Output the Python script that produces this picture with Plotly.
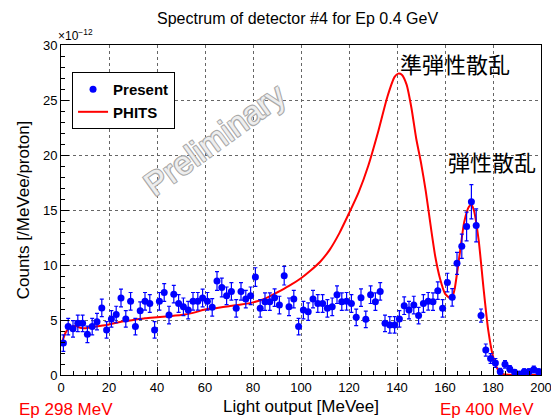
import plotly.graph_objects as go

# Measured light-output spectrum (2 MeVee bins), counts in units of 1e-12 /MeVee/proton
bin_centers = [1, 3, 5, 7, 9, 11, 13, 15, 17, 19, 21, 23, 25, 27, 29, 31, 33, 35, 37, 39,
               41, 43, 45, 47, 49, 51, 53, 55, 57, 59, 61, 63, 65, 67, 69, 71, 73, 75, 77, 79,
               81, 83, 85, 87, 89, 91, 93, 95, 97, 99, 101, 103, 105, 107, 109, 111, 113, 115, 117, 119,
               121, 123, 125, 127, 129, 131, 133, 135, 137, 139, 141, 143, 145, 147, 149, 151, 153, 155, 157, 159,
               161, 163, 165, 167, 169, 171, 173, 175, 177, 179, 181, 183, 185, 187, 189, 191, 193, 195, 197, 199]
present_counts = [2.9, 4.4, 4.2, 4.7, 4.7, 3.7, 4.4, 4.85, 6.1, 4.1,
                  5.1, 5.5, 7.0, 5.1, 6.7, 4.4, 5.85, 6.7, 6.5, 4.1,
                  6.7, 7.5, 5.45, 7.35, 6.5, 6.2, 5.9, 6.7, 6.7, 7.0,
                  6.7, 6.15, 8.55, 7.95, 7.2, 7.6, 6.06, 7.6, 6.9, 7.2,
                  8.9, 6.06, 6.67, 6.67, 7.03, 6.36, 9.03, 6.2, 6.9, 4.4,
                  5.9, 5.76, 6.9, 6.5, 6.5, 6.06, 6.2, 7.3, 6.67, 6.7,
                  6.5, 5.24, 7.03, 5.06, 7.3, 6.67, 7.6, 4.7, 4.55, 4.55,
                  5.1, 6.3, 5.9, 6.36, 5.4, 6.5, 6.7, 6.67, 7.67, 6.06,
                  8.4, 7.06, 10.15, 11.7, 13.5, 15.75, 13.6, 5.4, 2.27, 1.5,
                  1.1, 0.3, 0.97, 0.55, 0.24, 0.1, 0.3, 0.3, 0.5, 0.3]
present_errors = [0.75, 0.75, 0.75, 0.75, 0.75, 0.75, 0.75, 0.75, 0.8, 0.75,
                  0.75, 0.75, 0.8, 0.75, 0.8, 0.75, 0.8, 0.8, 0.8, 0.75,
                  0.8, 0.8, 0.8, 0.8, 0.8, 0.8, 0.8, 0.8, 0.8, 0.8,
                  0.8, 0.8, 0.85, 0.85, 0.8, 0.8, 0.8, 0.8, 0.8, 0.8,
                  0.85, 0.8, 0.8, 0.8, 0.8, 0.8, 0.85, 0.8, 0.8, 0.75,
                  0.8, 0.8, 0.8, 0.8, 0.8, 0.8, 0.8, 0.8, 0.8, 0.8,
                  0.8, 0.75, 0.8, 0.75, 0.8, 0.8, 0.8, 0.75, 0.75, 0.75,
                  0.75, 0.8, 0.8, 0.8, 0.75, 0.8, 0.8, 0.8, 0.8, 0.8,
                  0.85, 0.8, 1.0, 1.1, 1.3, 1.55, 1.5, 0.6, 0.55, 0.45,
                  0.4, 0.3, 0.35, 0.3, 0.25, 0.2, 0.25, 0.25, 0.3, 0.25]

# PHITS simulation curve
phits_x = [0.5, 2, 4, 6, 8, 10, 13, 16, 20, 25, 30, 35, 40, 45, 50, 55, 60, 65, 70, 75,
           80, 85, 90, 95, 100, 104, 108, 112, 116, 120, 124, 128, 132, 136, 139, 140.5, 142, 144, 146, 148,
           150, 152, 154, 156, 158, 160, 162, 163, 164, 166, 168, 170, 171, 172, 174, 176, 178, 180, 182, 184,
           187, 192, 200]
phits_y = [3.0, 3.9, 4.35, 4.45, 4.3, 4.25, 4.35, 4.45, 4.6, 4.85, 5.0, 5.15, 5.25, 5.35, 5.45, 5.65, 5.95, 6.1, 6.25, 6.4,
           6.6, 6.95, 7.5, 8.1, 8.8, 9.5, 10.3, 11.4, 12.9, 14.7, 16.6, 19.0, 22.0, 25.3, 27.1, 27.4, 27.3, 26.4, 24.3, 21.5,
           19.3, 16.7, 13.6, 10.7, 8.7, 7.4, 7.0, 7.1, 7.8, 10.8, 13.9, 15.3, 15.45, 15.0, 12.3, 8.0, 4.1, 1.7, 0.5, 0.1,
           0.02, 0.0, 0.0]

x_ticks = [0, 20, 40, 60, 80, 100, 120, 140, 160, 180, 200]
y_ticks = [0, 5, 10, 15, 20, 25, 30]

FONT = "Liberation Sans, Arial, Helvetica, sans-serif"
CJK = "Noto Sans CJK JP"

fig = go.Figure()

fig.add_trace(go.Scatter(
    x=phits_x, y=phits_y, mode="lines", name="PHITS",
    line=dict(color="#ff0000", width=2, shape="spline", smoothing=0.6),
))

fig.add_trace(go.Scatter(
    x=bin_centers, y=present_counts, mode="markers", name="Present",
    marker=dict(color="#0000ff", size=7, symbol="circle"),
    error_y=dict(type="data", array=present_errors, color="#0000ff", thickness=1.2, width=2),
))

axis_common = dict(
    showline=True, linecolor="black", linewidth=1, mirror=True,
    ticks="inside", tickcolor="black", ticklen=8, tickwidth=1,
    showgrid=True, gridcolor="#666666", griddash="dot", gridwidth=1,
    zeroline=False, automargin=False, ticklabeloverflow="allow",
    tickfont=dict(family=FONT, size=13, color="black"),
)

fig.update_xaxes(
    range=[0, 200], tickvals=x_ticks,
    minor=dict(ticks="inside", ticklen=4, dtick=5, tickcolor="black", showgrid=False),
    title=dict(text="Light output [MeVee]", font=dict(family=FONT, size=17, color="black"), standoff=6),
    **axis_common,
)
fig.update_yaxes(
    range=[0, 30], tickvals=y_ticks,
    minor=dict(ticks="inside", ticklen=4, dtick=1, tickcolor="black", showgrid=False),
    title=dict(text="Counts [/MeVee/proton]", font=dict(family=FONT, size=17, color="black"), standoff=8),
    **axis_common,
)

fig.update_layout(
    width=551, height=419,
    margin=dict(l=61, r=10, t=45, b=44),
    paper_bgcolor="white", plot_bgcolor="white",
    title=dict(text="Spectrum of detector #4 for Ep 0.4 GeV", x=0.54, xanchor="center",
               y=0.957, yanchor="middle", font=dict(family=FONT, size=16, color="black")),
    showlegend=True,
    legend=dict(
        x=0.023, y=0.918, xanchor="left", yanchor="top",
        bgcolor="white", bordercolor="black", borderwidth=1,
        font=dict(family=FONT, size=15, color="black", weight="bold"),
        traceorder="reversed", itemwidth=30,
    ),
)

fig.add_annotation(text="×10<sup>−12</sup>", xref="paper", yref="paper",
                   x=-0.01, y=1.0, xanchor="left", yanchor="bottom", showarrow=False,
                   font=dict(family=FONT, size=12, color="black"))
fig.add_annotation(text="準弾性散乱", x=164, y=28.4, xref="x", yref="y",
                   showarrow=False, xanchor="center", yanchor="middle",
                   font=dict(family=CJK, size=22, color="black"))
fig.add_annotation(text="弾性散乱", x=179.6, y=19.5, xref="x", yref="y",
                   showarrow=False, xanchor="center", yanchor="middle",
                   font=dict(family=CJK, size=22, color="black"))
fig.add_annotation(text="Preliminary", x=64, y=21.4, xref="x", yref="y",
                   showarrow=False, textangle=-36, xanchor="center", yanchor="middle",
                   font=dict(family=FONT, size=33, color="#eeeeee",
                             shadow="1px 1px 0 #aaaaaa, -1px -1px 0 #aaaaaa, 1px -1px 0 #aaaaaa, -1px 1px 0 #aaaaaa"))
fig.add_annotation(text="Ep 298 MeV", xref="paper", yref="paper", x=-0.092, y=-0.105,
                   xanchor="left", yanchor="middle", showarrow=False,
                   font=dict(family=FONT, size=17, color="#ff0000"))
fig.add_annotation(text="Ep 400 MeV", xref="paper", yref="paper", x=0.99, y=-0.105,
                   xanchor="right", yanchor="middle", showarrow=False,
                   font=dict(family=FONT, size=17, color="#ff0000"))

fig.write_html("out.html")
